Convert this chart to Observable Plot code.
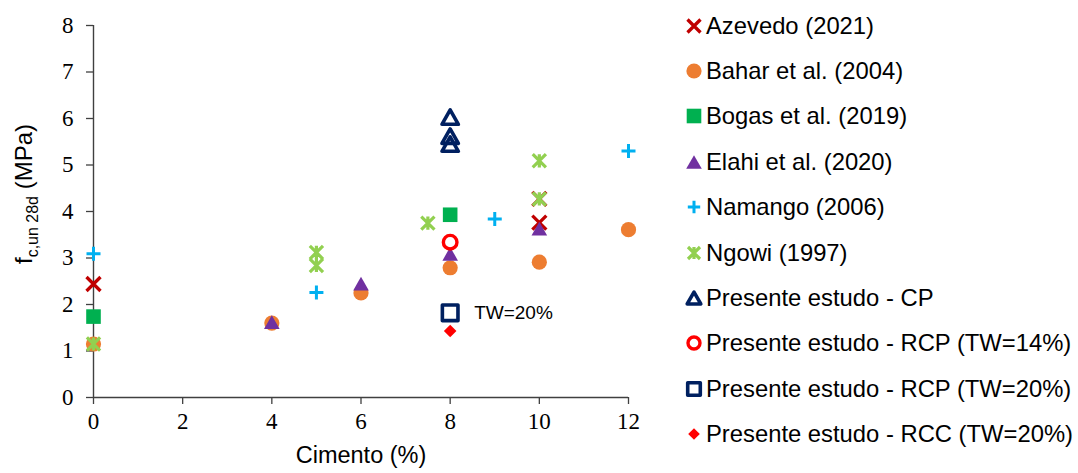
<!DOCTYPE html>
<html>
<head>
<meta charset="utf-8">
<script src="https://cdn.jsdelivr.net/npm/d3@7"></script>
<script src="https://cdn.jsdelivr.net/npm/@observablehq/plot@0.6"></script>
<style>
  body { margin: 0; background: #fff; }
  #wrap { position: relative; width: 1078px; height: 473px; overflow: hidden; }
  #chart { position: absolute; left: 0; top: 0; }
  #legend { position: absolute; left: 683px; top: 3px; font-family: "Liberation Sans", Arial, sans-serif; font-size: 23.8px; color: #000; }
  .row { display: flex; align-items: center; height: 45.4px; white-space: nowrap; }
  .row svg { width: 22px; height: 22px; margin-right: 1px; flex: none; }
</style>
</head>
<body>
<div id="wrap"><div id="chart"></div><div id="legend"></div></div>
<script>
// Unconfined compressive strength at 28 days vs cement content
const xTicks = [0, 2, 4, 6, 8, 10, 12];
const yTicks = [0, 1, 2, 3, 4, 5, 6, 7, 8];

const azevedoX = [0, 10, 10];
const azevedoY = [2.44, 4.27, 3.76];
const baharX = [0, 4, 6, 8, 10, 12];
const baharY = [1.15, 1.60, 2.25, 2.79, 2.91, 3.61];
const bogasX = [0, 8];
const bogasY = [1.74, 3.93];
const elahiX = [4, 6, 8, 10];
const elahiY = [1.62, 2.45, 3.09, 3.63];
const namangoX = [0, 5, 9, 12];
const namangoY = [3.09, 2.26, 3.84, 5.30];
const ngowiX = [0, 5, 5, 7.5, 10, 10];
const ngowiY = [1.15, 3.12, 2.84, 3.75, 5.09, 4.27];
const cpX = [8, 8, 8];
const cpY = [6.03, 5.62, 5.45];
const rcp14X = [8];
const rcp14Y = [3.34];
const rcp20X = [8];
const rcp20Y = [1.82];
const rccX = [8];
const rccY = [1.43];

const seriesNames = [
  "Azevedo (2021)", "Bahar et al. (2004)", "Bogas et al. (2019)", "Elahi et al. (2020)",
  "Namango (2006)", "Ngowi (1997)", "Presente estudo - CP",
  "Presente estudo - RCP (TW=14%)", "Presente estudo - RCP (TW=20%)", "Presente estudo - RCC (TW=20%)"
];
const annotationText = "TW=20%";

// marker shapes; the size passed in is π·r², r being the half-width
const rad = s => Math.sqrt(s / Math.PI);
const symTimes = { draw(c, s) { const r = rad(s); c.moveTo(-r, -r); c.lineTo(r, r); c.moveTo(-r, r); c.lineTo(r, -r); } };
const symCircle = { draw(c, s) { const r = rad(s); c.moveTo(r, 0); c.arc(0, 0, r, 0, 2 * Math.PI); c.closePath(); } };
const symSquare = { draw(c, s) { const r = rad(s); c.rect(-r, -r, 2 * r, 2 * r); } };
const symTriangle = { draw(c, s) { const r = rad(s), h = r * 0.88; c.moveTo(0, -h); c.lineTo(r, h); c.lineTo(-r, h); c.closePath(); } };
const symPlus = { draw(c, s) { const r = rad(s); c.moveTo(-r, 0); c.lineTo(r, 0); c.moveTo(0, -r); c.lineTo(0, r); } };
const symStar = { draw(c, s) { const r = rad(s); c.moveTo(-r, -r); c.lineTo(r, r); c.moveTo(-r, r); c.lineTo(r, -r); c.moveTo(0, -r); c.lineTo(0, r); } };
const symDiamond = { draw(c, s) { const r = rad(s); c.moveTo(0, -r); c.lineTo(r, 0); c.lineTo(0, r); c.lineTo(-r, 0); c.closePath(); } };

const series = [
  { name: seriesNames[0], xs: azevedoX, ys: azevedoY, sym: symTimes, r: 7, fill: "none", stroke: "#C00000", sw: 3.3, lr: 6.5 },
  { name: seriesNames[1], xs: baharX, ys: baharY, sym: symCircle, r: 7.6, fill: "#ED7D31", stroke: "none", sw: 0, lr: 7.6 },
  { name: seriesNames[2], xs: bogasX, ys: bogasY, sym: symSquare, r: 7.3, fill: "#00B050", stroke: "none", sw: 0, lr: 7.3 },
  { name: seriesNames[3], xs: elahiX, ys: elahiY, sym: symTriangle, r: 7.8, fill: "#7030A0", stroke: "none", sw: 0, lr: 7.8 },
  { name: seriesNames[4], xs: namangoX, ys: namangoY, sym: symPlus, r: 7, fill: "none", stroke: "#00B0F0", sw: 3, lr: 6.2 },
  { name: seriesNames[5], xs: ngowiX, ys: ngowiY, sym: symStar, r: 6.6, fill: "none", stroke: "#92D050", sw: 3.2, lr: 6 },
  { name: seriesNames[6], xs: cpX, ys: cpY, sym: symTriangle, r: 8.2, fill: "none", stroke: "#002060", sw: 3.6, lr: 6.8 },
  { name: seriesNames[7], xs: rcp14X, ys: rcp14Y, sym: symCircle, r: 6.8, fill: "none", stroke: "#FF0000", sw: 3.4, lr: 6 },
  { name: seriesNames[8], xs: rcp20X, ys: rcp20Y, sym: symSquare, r: 7.8, fill: "none", stroke: "#002060", sw: 3.6, lr: 6.3 },
  { name: seriesNames[9], xs: rccX, ys: rccY, sym: symDiamond, r: 6.3, fill: "#FF0000", stroke: "none", sw: 0, lr: 5.8 }
];

const sans = '"Liberation Sans", Arial, sans-serif';

const dotMarks = series.map(s => Plot.dot(
  s.xs.map((x, i) => ({ x, y: s.ys[i] })),
  { x: "x", y: "y", symbol: () => s.sym, r: s.r, fill: s.fill, stroke: s.stroke,
    strokeWidth: s.sw, strokeLinejoin: "round", strokeLinecap: "butt" }
));

const chart = Plot.plot({
  width: 680,
  height: 473,
  marginLeft: 93,
  marginRight: 52,
  marginTop: 25,
  marginBottom: 76,
  x: { domain: [0, 12], label: null },
  y: { domain: [0, 8], label: null },
  symbol: { type: "identity" },
  style: { fontFamily: '"Liberation Serif", "Times New Roman", serif', fontSize: "23px", color: "#000", background: "#fff", overflow: "visible" },
  marks: [
    Plot.axisX({ ticks: xTicks, tickSize: 7, tickPadding: 8, label: null, stroke: "#404040", strokeWidth: 1.3 }),
    Plot.axisY({ ticks: yTicks, tickSize: 7, tickPadding: 13, label: null, stroke: "#404040", strokeWidth: 1.3 }),
    Plot.ruleY([0], { stroke: "#404040", strokeWidth: 1.4 }),
    Plot.ruleX([0], { stroke: "#404040", strokeWidth: 1.4 }),
    ...dotMarks,
    Plot.text([{ x: rcp20X[0], y: rcp20Y[0], label: annotationText }],
      { x: "x", y: "y", text: "label", dx: 24, textAnchor: "start", fontFamily: sans, fontSize: 19, fill: "#000" }),
    Plot.text(["Cimento (%)"], { frameAnchor: "bottom", dy: 65, fontFamily: sans, fontSize: 23.5, fill: "#000" })
  ]
});

// y-axis title with subscript
const ylab = d3.select(chart).append("text")
  .attr("transform", "translate(32,194) rotate(-90)")
  .attr("text-anchor", "middle")
  .attr("font-family", sans)
  .attr("font-size", 24)
  .attr("fill", "#000");
ylab.append("tspan").text("f");
ylab.append("tspan").attr("font-size", 16).attr("dy", 6).text("c,un 28d");
ylab.append("tspan").attr("dy", -6).text(" (MPa)");

document.getElementById("chart").appendChild(chart);

// legend column
const legend = d3.select("#legend");
series.forEach(s => {
  const row = legend.append("div").attr("class", "row");
  const svg = row.append("svg").attr("viewBox", "-11 -11 22 22");
  svg.append("path")
    .attr("d", d3.symbol(s.sym, Math.PI * s.lr * s.lr)())
    .attr("fill", s.fill)
    .attr("stroke", s.stroke)
    .attr("stroke-width", s.sw)
    .attr("stroke-linejoin", "round");
  row.append("span").text(s.name);
});
</script>
</body>
</html>
